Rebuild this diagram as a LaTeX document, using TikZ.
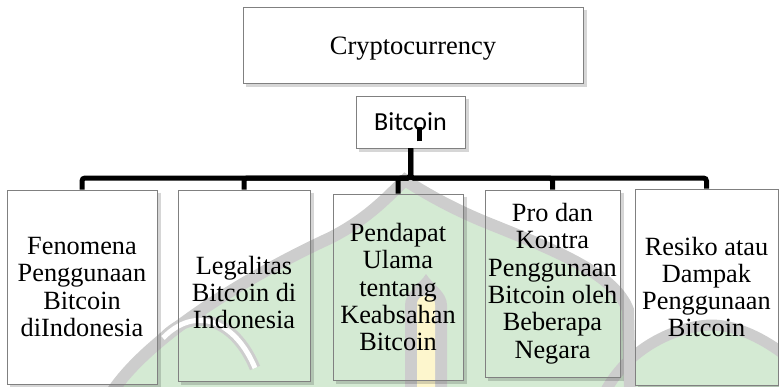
\documentclass[tikz,border=0pt]{standalone}
\usepackage{fontspec}
\setmainfont{Liberation Serif}
\newfontfamily\calibfont{Carlito}
\definecolor{wmgreen}{RGB}{212,234,211}
\definecolor{wmgray}{RGB}{205,205,205}
\definecolor{wmyellow}{RGB}{253,246,205}
\definecolor{boxborder}{RGB}{128,128,128}
\newcommand\boxshade[1]{\draw[shad] ([xshift=2pt,yshift=-3pt]#1.north east) -- ([xshift=2pt,yshift=-2pt]#1.south east) -- ([xshift=3pt,yshift=-2pt]#1.south west);}
\begin{document}
\begin{tikzpicture}[x=1pt,y=-1pt,
  box/.style={draw=boxborder, line width=0.9pt, inner sep=0pt},
  txt/.style={align=center, font=\fontsize{26.3}{27.3}\selectfont, inner sep=0pt},
  conn/.style={line width=5pt, rounded corners=3pt},
  shad/.style={line width=2.5pt, black, opacity=0.16}]
\useasboundingbox (0,0) rectangle (779,386);
\clip (0,0) rectangle (779,386);
% watermark
\fill[wmgreen] (112,392) .. controls (150,335) and (250,275) .. (330,238) .. controls (370,218) and (392,192) .. (405,180) .. controls (420,190) and (450,208) .. (490,224) .. controls (560,252) and (615,275) .. (628,310) -- (630,392) -- cycle;
\fill[wmgreen] (605,392) .. controls (630,345) and (680,325) .. (713,325) .. controls (740,326) and (765,340) .. (785,355) -- (785,392) -- cycle;
\draw[wmgray, line width=12pt] (112,392) .. controls (150,335) and (250,275) .. (330,238) .. controls (370,218) and (392,192) .. (405,180) .. controls (420,190) and (450,208) .. (490,224) .. controls (560,252) and (615,275) .. (628,310) -- (630,392);
\draw[wmgray, line width=11pt] (605,392) .. controls (630,345) and (680,325) .. (713,325) .. controls (740,326) and (765,340) .. (785,355);
\draw[wmgray, line width=11pt] (163,338) .. controls (195,305) and (235,320) .. (255,368);
\draw[white, line width=5pt] (163,338) .. controls (195,305) and (235,320) .. (255,368);
\fill[wmgray] (405,392) -- (405,305) .. controls (405,292) and (420,284) .. (426,274) .. controls (432,284) and (447,292) .. (447,305) -- (447,392) -- cycle;
\fill[wmyellow] (417,392) -- (417,305) .. controls (417,298) and (421,296) .. (426,296) .. controls (431,296) and (435,298) .. (435,305) -- (435,392) -- cycle;
% boxes
\node[box, fill=white, minimum width=340pt, minimum height=76pt] (crypto) at (413,45) {};
\node[txt, font=\fontsize{26.5}{28}\selectfont] (tcrypto) at ([yshift=-4pt]crypto.center) {Cryptocurrency};
\node[box, fill=white, minimum width=109pt, minimum height=52pt] (bit) at (410.5,122) {};
\node[inner sep=0pt, font=\calibfont\fontsize{26}{28}\selectfont] (tbit) at (bit.center) {Bitcoin};
\node[box, minimum width=150pt, minimum height=194pt] (b1) at (82,287) {};
\node[box, minimum width=132pt, minimum height=191pt] (b2) at (244,285.5) {};
\node[box, minimum width=130pt, minimum height=186pt] (b3) at (398,287) {};
\node[box, minimum width=135pt, minimum height=187pt] (b4) at (552.5,283.5) {};
\node[box, minimum width=143pt, minimum height=196pt] (b5) at (706.5,287) {};
\boxshade{crypto}
\boxshade{bit}
\boxshade{b1}
\boxshade{b2}
\boxshade{b3}
\boxshade{b4}
\boxshade{b5}
\node[txt] (t1) at (b1.center) {Fenomena\\Penggunaan\\Bitcoin\\diIndonesia};
\node[txt] (t2) at ([yshift=-7pt]b2.center) {Legalitas\\Bitcoin di\\Indonesia};
\node[txt] (t3) at (b3.center) {Pendapat\\Ulama\\tentang\\Keabsahan\\Bitcoin};
\node[txt] (t4) at (b4.center) {Pro dan\\Kontra\\Penggunaan\\Bitcoin oleh\\Beberapa\\Negara};
\node[txt] (t5) at (b5.center) {Resiko atau\\Dampak\\Penggunaan\\Bitcoin};
% connectors
\coordinate (bary) at (0,178);
\foreach \b in {b1,b2,b3,b4,b5}
  \draw[conn] (bit.south) -- (bit.south |- bary) -| (\b.north);
\draw[line width=5pt] ([xshift=9pt,yshift=7pt]bit.south) -- ([xshift=9pt,yshift=21pt]bit.south);
\end{tikzpicture}
\end{document}
